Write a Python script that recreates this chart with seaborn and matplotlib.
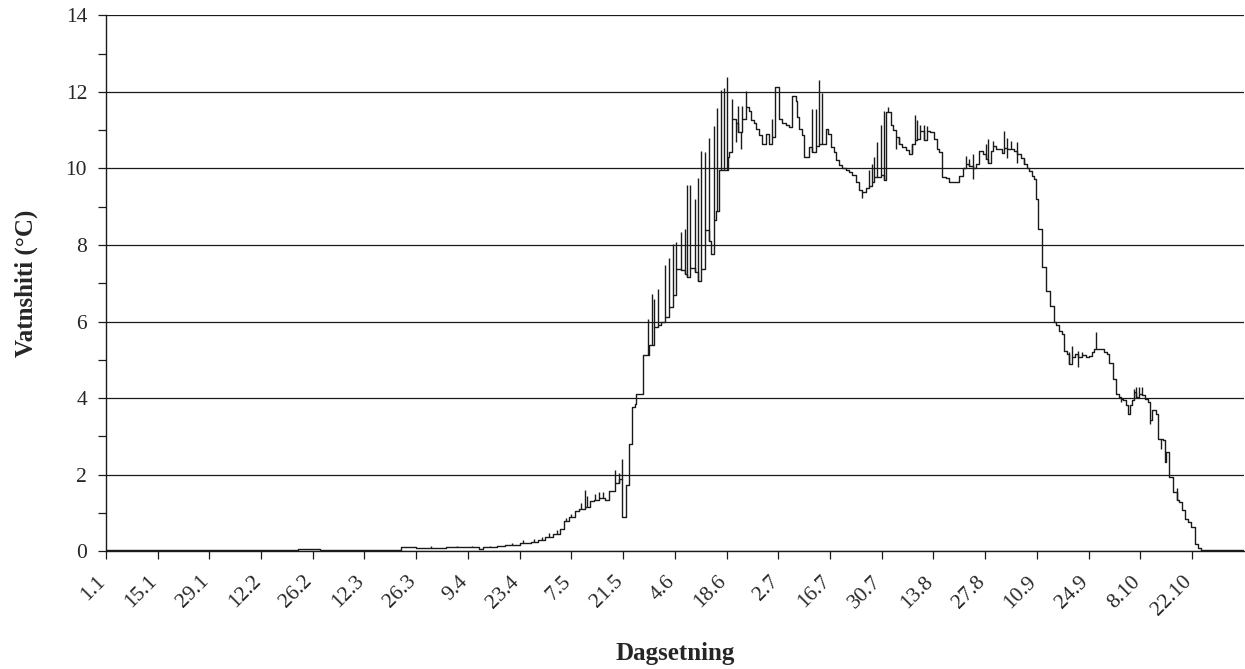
import numpy as np
import pandas as pd
import seaborn as sns
import matplotlib
matplotlib.use('Agg')
import matplotlib.pyplot as plt
import matplotlib.transforms as mtrans
from matplotlib.ticker import MultipleLocator

# Step levels of water temperature (day of year from 1 Jan, value in degC)
days = [0, 20, 40, 52, 58, 70, 80, 84, 92, 101, 102, 106, 108, 112, 115, 117, 119, 121,
        123, 124, 125.5, 127, 128, 129.6, 131, 132, 133.6, 135, 136.3, 137.7, 139, 139.8,
        140.8, 141.7, 142.4, 143.1, 143.6, 145.5, 147, 148.5, 149.5, 150.4, 151.3, 152.3,
        153.5, 154.4, 155.6, 156.7, 157.4, 158.2, 159.4, 160.3, 161.2, 162.1, 163.3, 163.9,
        164.5, 165.2, 166, 168.3, 168.7, 169.4, 170.7, 171.2, 172.3, 173.2, 174.1, 174.6,
        175.5, 176.1, 176.8, 177.7, 178.6, 179.5, 180.4, 181.2, 182.2, 183.1, 184, 184.9,
        185.8, 186.8, 187.2, 187.6, 188.5, 189, 190.4, 191.2, 192.2, 193, 194.8, 195.6,
        196.2, 197.1, 197.7, 198.5, 199.3, 200.3, 201.2, 202.1, 203, 203.9, 204.8, 205.7,
        206.6, 207.3, 207.9, 209.7, 210.6, 211.1, 212.4, 213, 213.8, 214.7, 215.6, 216.5,
        217.4, 218.1, 219, 219.6, 220.5, 221.4, 222.3, 223.2, 224.1, 225, 225.6, 226.2,
        227.3, 228.2, 231, 231.9, 232.8, 233.7, 234.6, 235.5, 236.4, 237.3, 238.2, 238.9,
        239.5, 240.1, 240.9, 242.5, 243.1, 244, 245.8, 246.7, 247.6, 248.5, 249.2, 249.9,
        250.6, 251.2, 251.7, 252.4, 253.3, 254.4, 255.5, 256.6, 257.3, 258, 258.9, 259.3,
        260.2, 260.7, 261.4, 262.3, 263.2, 264.1, 265.2, 266.1, 267, 267.5, 268.8, 270.1,
        271, 271.5, 272.6, 273.5, 274.2, 274.7, 275.3, 276.2, 276.6, 277.1, 277.7, 278.3,
        278.9, 279.6, 280.5, 281.4, 282.1, 282.6, 283.2, 284.3, 284.8, 286.1, 286.6, 287,
        287.7, 288.8, 290, 290.6, 291.3, 292.2, 292.9, 293.8, 294.9, 295.6, 296.3, 308]
temp = [0.02, 0.03, 0.04, 0.07, 0.04, 0.04, 0.11, 0.09, 0.10, 0.05, 0.10, 0.13, 0.17, 0.22, 0.25, 0.29, 0.38, 0.44,
        0.57, 0.78, 0.89, 1.06, 1.11, 1.15, 1.30, 1.35, 1.40, 1.33, 1.57, 1.78, 1.90, 0.89,
        1.73, 2.81, 3.77, 3.86, 4.10, 5.12, 5.40, 5.86, 5.90, 5.99, 6.12, 6.38,
        6.69, 7.38, 7.34, 7.25, 7.16, 7.40, 7.30, 7.07, 7.38, 8.40, 8.10, 7.77,
        8.65, 8.90, 9.97, 10.30, 10.43, 11.30, 11.20, 10.95, 11.28, 11.60, 11.50, 11.26,
        11.20, 11.04, 10.87, 10.65, 10.91, 10.65, 10.82, 12.12, 11.30, 11.20, 11.13, 11.08,
        11.90, 11.77, 11.35, 11.04, 10.87, 10.30, 10.56, 10.44, 10.60, 10.65, 11.04, 10.90,
        10.56, 10.43, 10.22, 10.08, 10.00, 9.96, 9.91, 9.83, 9.65, 9.44, 9.39, 9.48,
        9.55, 9.65, 9.78, 9.83, 9.70, 11.47, 11.13, 11.00, 10.82, 10.65, 10.56, 10.48,
        10.39, 10.65, 10.74, 10.78, 10.99, 10.74, 10.99, 10.95, 10.78, 10.52, 10.43, 9.78,
        9.74, 9.65, 9.80, 10.02, 10.11, 10.06, 10.00, 10.11, 10.46, 10.37, 10.24, 10.15,
        10.46, 10.59, 10.50, 10.41, 10.54, 10.50, 10.46, 10.37, 10.28, 10.11, 10.02, 9.93,
        9.80, 9.72, 9.20, 8.41, 7.42, 6.81, 6.41, 5.98, 5.90, 5.76, 5.67, 5.24,
        5.15, 4.89, 5.07, 5.15, 5.07, 5.12, 5.07, 5.10, 5.20, 5.28, 5.28, 5.20,
        5.15, 4.93, 4.50, 4.11, 4.02, 3.98, 3.94, 3.81, 3.59, 3.81, 3.94, 4.15,
        4.02, 4.11, 4.07, 3.98, 3.89, 3.42, 3.68, 3.59, 2.94, 2.90, 2.33, 2.59,
        1.94, 1.55, 1.35, 1.29, 1.07, 0.85, 0.77, 0.64, 0.20, 0.08, 0.04, 0.04]

# Short excursions within a day (day, extreme value reached)
spike_days = [88, 95, 99, 104, 110, 113, 116, 118, 120, 122, 124.5, 126, 128.5, 129.6,
              130.3, 132.5, 133.6, 134.5, 137.7, 138.8, 139.6, 146.7, 147.7, 148.5, 149.5,
              151.3, 152.3, 153.5, 154.4, 155.6, 156.7, 157.4, 158.2, 159.4, 160.3, 161.2,
              162.1, 163.3, 164.5, 165.5, 166.5, 167.4, 168.1, 169.4, 170.7, 171.2, 171.9,
              172.3, 173.2, 180.4, 191.2, 192.2, 193, 193.9, 204.8, 206.6, 207.3, 207.9,
              208.8, 209.7, 210.6, 211.8, 213.8, 214.7, 218.1, 219, 219.6, 220.5, 221.4,
              222.3, 232.8, 233.7, 234.6, 234.6, 238.2, 238.9, 240.1, 243.1, 244, 244,
              244.9, 246.7, 246.7, 248.5, 260.7, 261.4, 263.2, 263.2, 264.1, 267.9, 274.7,
              278.3, 278.9, 279.6, 280.5, 282.6, 285.5, 290]
spike_vals = [0.14, 0.15, 0.13, 0.15, 0.22, 0.30, 0.33, 0.38, 0.48, 0.55, 0.88, 0.98, 1.25, 1.61,
              1.45, 1.50, 1.55, 1.55, 2.13, 2.05, 2.42, 6.08, 6.73, 6.60, 6.84,
              7.47, 7.65, 8.04, 8.08, 8.34, 8.43, 9.56, 9.56, 9.20, 9.74, 10.45,
              10.42, 10.80, 11.10, 11.57, 12.05, 12.10, 12.38, 11.82, 10.69, 11.64, 10.52,
              11.64, 12.03, 11.30, 11.55, 11.55, 12.30, 11.96, 9.22, 9.96, 10.13, 10.30,
              10.70, 11.13, 11.50, 11.60, 10.50, 10.82, 10.40, 11.40, 11.26, 11.13, 11.13,
              11.10, 10.33, 10.24, 10.37, 9.72, 10.63, 10.76, 10.72, 10.98, 10.80, 10.28,
              10.72, 10.68, 10.15, 10.24, 5.20, 5.37, 4.81, 5.24, 5.20, 5.72, 3.90,
              4.24, 4.28, 4.28, 4.30, 3.33, 2.67, 1.65]

tick_days = list(range(0, 295, 14))
tick_labels = ['1.1', '15.1', '29.1', '12.2', '26.2', '12.3', '26.3', '9.4', '23.4', '7.5', '21.5',
               '4.6', '18.6', '2.7', '16.7', '30.7', '13.8', '27.8', '10.9', '24.9', '8.10', '22.10']

df = pd.DataFrame({'day': days, 'temp': temp})

sns.set_style('white')
plt.rcParams['font.family'] = ['Liberation Serif', 'DejaVu Serif']

fig, ax = plt.subplots(figsize=(12.45, 6.69), dpi=100)
fig.subplots_adjust(left=0.085, right=0.999, top=0.977, bottom=0.176)

ink = '#1a1a1a'
sns.lineplot(data=df, x='day', y='temp', drawstyle='steps-post', color=ink,
             linewidth=1.0, ax=ax, sort=False)

# vertical excursions start from the step level of that day
days_arr = np.array(days)
temp_arr = np.array(temp)
idx = np.searchsorted(days_arr, spike_days, side='right') - 1
ax.vlines(spike_days, temp_arr[idx], spike_vals, color=ink, linewidth=1.0)

ax.set_xlim(0, 308)
ax.set_ylim(0, 14)
ax.yaxis.set_major_locator(MultipleLocator(2))
ax.yaxis.set_minor_locator(MultipleLocator(1))
ax.set_xticks(tick_days)
ax.set_xticklabels(tick_labels, rotation=45, ha='right', rotation_mode='anchor')
ax.grid(axis='y', which='major', color=ink, linewidth=0.9)
ax.set_axisbelow(True)

for s in ['top', 'right']:
    ax.spines[s].set_visible(False)
for s in ['left', 'bottom']:
    ax.spines[s].set_color(ink)
    ax.spines[s].set_linewidth(1.0)

ax.tick_params(axis='y', which='both', direction='out', length=6, width=0.9,
               color=ink, left=True, labelsize=15.5, pad=7.5)
ax.tick_params(axis='x', which='major', direction='out', length=6, width=0.9,
               color=ink, bottom=True, labelsize=15.5, pad=9)

# rotated date labels sit a little left of their ticks
shift = mtrans.ScaledTranslation(-7 / 72, 0, fig.dpi_scale_trans)
for lab in ax.get_xticklabels():
    lab.set_transform(lab.get_transform() + shift)

ax.set_xlabel('Dagsetning', fontsize=18, fontweight='bold', labelpad=16)
ax.set_ylabel('Vatnshiti (°C)', fontsize=18, fontweight='bold', labelpad=20)

fig.savefig('out.png', dpi=100)
